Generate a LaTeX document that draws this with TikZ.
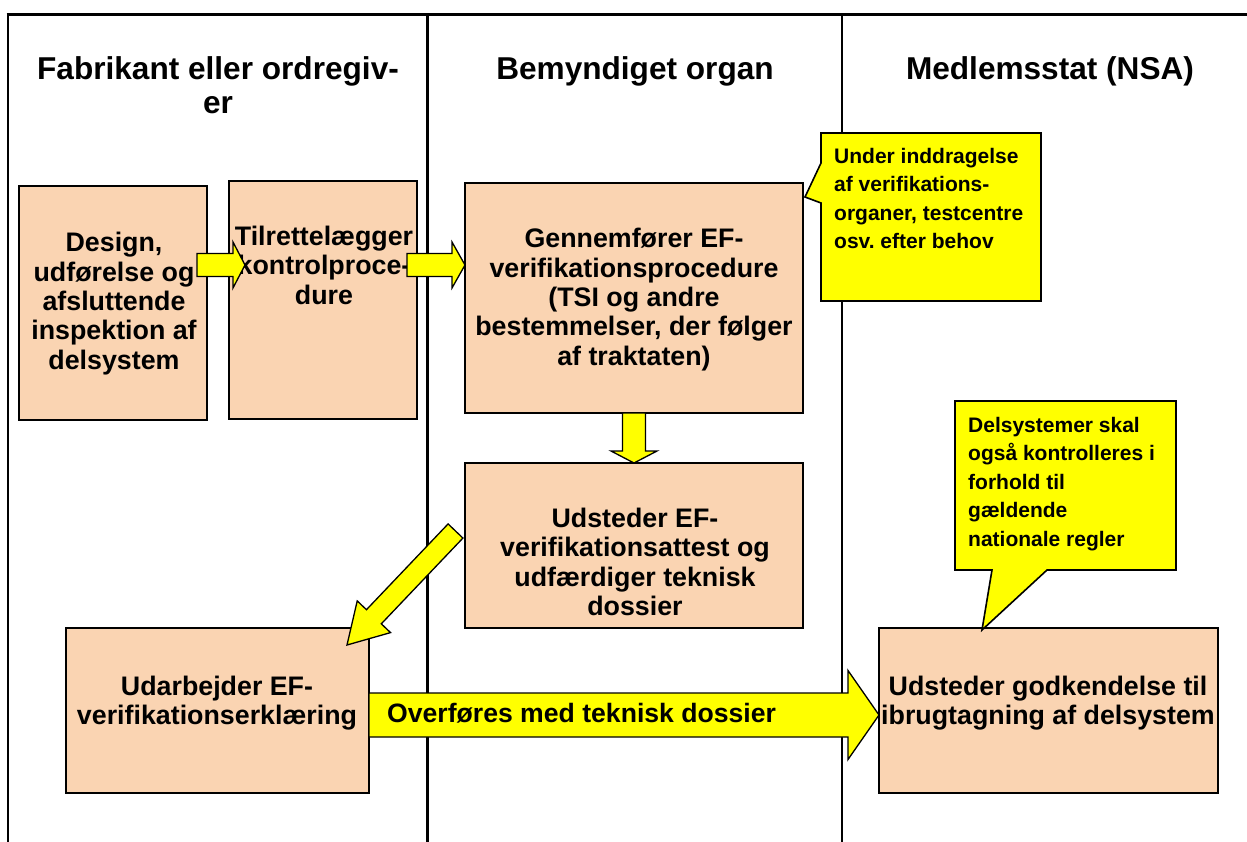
\documentclass[tikz,border=0pt]{standalone}
\usepackage{fontspec}
\setmainfont{Liberation Sans}
\usetikzlibrary{calc}
\definecolor{peach}{RGB}{250,212,178}
\definecolor{yel}{RGB}{255,255,0}
\newcommand{\blockarrow}[5]{%
  \coordinate (baH) at ($(#2)!#5!(#1)$);
  \draw[barrow] ($(#1)!#3!90:(#2)$) -- ($(baH)!#3!90:(#2)$) -- ($(baH)!#4!90:(#2)$) -- (#2)
     -- ($(baH)!#4!-90:(#2)$) -- ($(baH)!#3!-90:(#2)$) -- ($(#1)!#3!-90:(#2)$) -- cycle;
}
\tikzset{
  box/.style={draw=black, fill=peach, line width=1.8pt, inner sep=0pt, outer sep=0pt, rectangle},
  barrow/.style={draw=black, fill=yel, line width=1.3pt, line join=miter},
  callout/.style={draw=black, fill=yel, line width=1.6pt, line join=miter},
  boxtxt/.style={font=\bfseries\fontsize{26.8}{29.4}\selectfont, align=center, inner sep=0pt, anchor=north},
  headtxt/.style={font=\bfseries\fontsize{31.6}{34}\selectfont, align=center, inner sep=0pt},
  calltxt/.style={font=\bfseries\fontsize{21}{28.6}\selectfont, align=left, inner sep=0pt, anchor=north west},
}
\begin{document}
\begin{tikzpicture}[x=1pt, y=-1pt]
\useasboundingbox (0,0) rectangle (1247,842);
\fill[white] (0,0) rectangle (1247,842);
% lane lines
\draw[line width=2pt] (8,15) -- (8,842);
\draw[line width=3pt] (6.5,15) -- (1247,15);
\draw[line width=3pt] (427,15) -- (427,842);
\draw[line width=1.6pt] (842,15) -- (842,842);
% headers
\node[headtxt, anchor=north] (h1) at (218,56.5) {Fabrikant eller ordregiv-\\er};
\node[headtxt, anchor=base] (h2) at (635,80) {Bemyndiget organ};
\node[headtxt, anchor=base] (h3) at (1050,80) {Medlemsstat (NSA)};
% boxes
\node[box, minimum width=188, minimum height=234] (A) at (113,303) {};
\node[box, minimum width=188, minimum height=238] (B) at (323,300) {};
\node[box, minimum width=338, minimum height=230] (C) at (634,298) {};
\node[box, minimum width=338, minimum height=165] (D) at (634,545.5) {};
\node[box, minimum width=303, minimum height=165] (E) at (217.5,710.5) {};
\node[box, minimum width=339, minimum height=165] (F) at (1048.5,710.5) {};
% box texts
\node[boxtxt] (tA) at (114,232) {Design,\\udførelse og\\afsluttende\\inspektion af\\delsystem};
\node[boxtxt] (tB) at (324,225.7) {Tilrettelægger\\kontrolproce-\\dure};
\node[boxtxt] (tC) at (634,228) {Gennemfører EF-\\verifikationsprocedure\\(TSI og andre\\bestemmelser, der følger\\af traktaten)};
\node[boxtxt] (tD) at (635,507.7) {Udsteder EF-\\verifikationsattest og\\udfærdiger teknisk\\dossier};
\node[boxtxt] (tE) at (217,675.5) {Udarbejder EF-\\verifikationserklæring};
\node[boxtxt] (tF) at (1048,675.5) {Udsteder godkendelse til\\ibrugtagning af delsystem};
% block arrows
\coordinate (a1s) at ($(A.east)+(-10,-38)$);
\coordinate (a1e) at ($(B.west)+(16,-35)$);
\blockarrow{a1s}{a1e}{11.5pt}{23pt}{12pt}
\coordinate (a2s) at ($(B.east)+(-10,-35)$);
\coordinate (a2e) at ($(C.west)+(0,-33)$);
\blockarrow{a2s}{a2e}{11.5pt}{23pt}{13pt}
\blockarrow{C.south}{D.north}{11.5pt}{23pt}{12pt}
\coordinate (a4s) at ($(D.west)+(-9.5,-14.5)$);
\coordinate (a4e) at ($(E.north east)+(-22,17)$);
\blockarrow{a4s}{a4e}{10.25pt}{23pt}{39pt}
\coordinate (a5s) at ($(E.east)+(0,4.5)$);
\coordinate (a5e) at ($(F.west)+(0,4.5)$);
\blockarrow{a5s}{a5e}{22pt}{44.5pt}{31pt}
\node[font=\bfseries\fontsize{26.6}{29.4}\selectfont, inner sep=0pt, anchor=base west] (lbl) at (387,722) {Overføres med teknisk dossier};
% callouts
\draw[callout] (821,133) -- (1041,133) -- (1041,301) -- (821,301) -- (821,203) -- (805,197) -- (821,163) -- cycle;
\node[calltxt] (c1) at (834,147.7) {Under inddragelse\\af verifikations-\\organer, testcentre\\osv.\ efter behov};
\draw[callout] (955,401) -- (1176,401) -- (1176,570) -- (1047,570) -- (982,630) -- (992,570) -- (955,570) -- cycle;
\node[calltxt] (c2) at (968,416.7) {Delsystemer skal\\også kontrolleres i\\forhold til\\gældende\\nationale regler};
\end{tikzpicture}
\end{document}
